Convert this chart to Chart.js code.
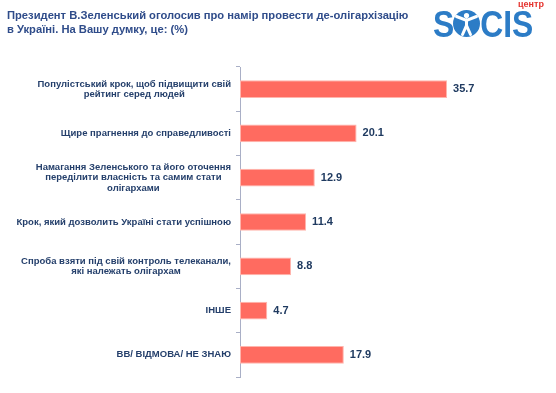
<!DOCTYPE html>
<html>
<head>
<meta charset="utf-8">
<script src="https://cdn.jsdelivr.net/npm/chart.js@4/dist/chart.umd.min.js"></script>
<style>
  html, body { margin: 0; padding: 0; background: #fff; }
  #wrap { width: 556px; height: 393px; }
</style>
</head>
<body>
<div id="wrap"><canvas id="chart" width="556" height="393"></canvas></div>
<script>
var categories = [
    ['Популістський крок, щоб підвищити свій', 'рейтинг серед людей'],
    ['Щире прагнення до справедливості'],
    ['Намагання Зеленського та його оточення', 'переділити власність та самим стати', 'олігархами'],
    ['Крок, який дозволить Україні стати успішною'],
    ['Спроба взяти під свій контроль телеканали,', 'які належать олігархам'],
    ['ІНШЕ'],
    ['ВВ/ ВІДМОВА/ НЕ ЗНАЮ']
];
var values = [35.7, 20.1, 12.9, 11.4, 8.8, 4.7, 17.9];
var titleLines = ['Президент В.Зеленський оголосив про намір провести де-олігархізацію', 'в Україні. На Вашу думку, це: (%)'];

var navy = '#243F6B';

// підписи категорій (по центру блоку, блок вирівняний праворуч) + значення біля стовпчиків
var labelsPlugin = {
    id: 'labels',
    afterDatasetsDraw: function (chart) {
        var ctx = chart.ctx;
        var yScale = chart.scales.y;
        var right = chart.chartArea.left - 9;
        ctx.save();
        ctx.fillStyle = navy;
        ctx.font = 'bold 9.5px "Liberation Sans", Arial, sans-serif';
        ctx.textBaseline = 'middle';
        ctx.textAlign = 'center';
        categories.forEach(function (lines, i) {
            var w = 0;
            lines.forEach(function (l) { w = Math.max(w, ctx.measureText(l).width); });
            var cx = right - w / 2;
            var cy = yScale.getPixelForValue(i);
            var lh = 10.5;
            lines.forEach(function (l, k) {
                ctx.fillText(l, cx, cy + (k - (lines.length - 1) / 2) * lh);
            });
        });

        ctx.font = 'bold 11px "Liberation Sans", Arial, sans-serif';
        ctx.textAlign = 'left';
        ctx.fillStyle = '#1F3A60';
        var meta = chart.getDatasetMeta(0);
        meta.data.forEach(function (bar, i) {
            ctx.fillText(values[i].toFixed(1), bar.x + 6, bar.y);
        });
        ctx.restore();
    }
};

// логотип центр SOCIS
var logoPlugin = {
    id: 'logo',
    afterDraw: function (chart) {
        var ctx = chart.ctx;
        var blue = '#2C7CC6';
        ctx.save();
        ctx.fillStyle = '#E5322D';
        ctx.font = 'bold 9px "Liberation Sans", Arial, sans-serif';
        ctx.textBaseline = 'alphabetic';
        ctx.textAlign = 'left';
        ctx.fillText('центр', 518, 7);

        ctx.fillStyle = blue;
        ctx.font = 'bold 37px "Liberation Sans", Arial, sans-serif';
        ctx.save();
        ctx.translate(433, 37);
        ctx.scale(0.86, 1);
        ctx.fillText('S', 0, 0);
        ctx.fillText('CIS', 55, 0);
        ctx.restore();

        // літера O з фігурою
        var ox = 466.5, oy = 23.5, r = 13.5;
        ctx.beginPath();
        ctx.arc(ox, oy, r, 0, Math.PI * 2);
        ctx.fill();
        ctx.fillStyle = '#fff';
        ctx.strokeStyle = '#fff';
        ctx.beginPath();
        ctx.arc(ox, oy - 8, 2.6, 0, Math.PI * 2);
        ctx.fill();
        ctx.lineWidth = 3;
        ctx.lineCap = 'round';
        ctx.beginPath();
        ctx.moveTo(ox - 10, oy - 7);
        ctx.lineTo(ox, oy - 3);
        ctx.lineTo(ox + 10, oy - 7);
        ctx.moveTo(ox, oy - 4);
        ctx.lineTo(ox, oy + 3);
        ctx.moveTo(ox - 4, oy + 11);
        ctx.lineTo(ox, oy + 2);
        ctx.lineTo(ox + 4, oy + 11);
        ctx.stroke();
        ctx.restore();
    }
};

new Chart(document.getElementById('chart').getContext('2d'), {
    type: 'bar',
    data: {
        labels: categories,
        datasets: [{
            data: values,
            backgroundColor: '#FF6B60',
            borderColor: '#FFB5AD',
            borderWidth: 1,
            borderSkipped: false,
            barPercentage: 0.4,
            categoryPercentage: 1
        }]
    },
    options: {
        indexAxis: 'y',
        responsive: false,
        animation: false,
        layout: {
            padding: { left: 7, right: 84, bottom: 16, top: 0 }
        },
        plugins: {
            legend: { display: false },
            tooltip: { enabled: false },
            title: {
                display: true,
                text: titleLines,
                align: 'start',
                color: '#2F4C8A',
                font: { family: '"Liberation Sans", Arial, sans-serif', size: 11.2, weight: 'bold', lineHeight: 1.25 },
                padding: { top: 8.5, bottom: 30.5 }
            }
        },
        scales: {
            x: {
                display: false,
                min: 0,
                max: 40
            },
            y: {
                afterFit: function (scale) { scale.width = 233; },
                ticks: { display: false },
                grid: {
                    drawOnChartArea: false,
                    drawTicks: true,
                    tickLength: 4,
                    color: '#A9AFC6'
                },
                border: { color: '#A9AFC6', width: 1 }
            }
        }
    },
    plugins: [labelsPlugin, logoPlugin]
});
</script>
</body>
</html>
